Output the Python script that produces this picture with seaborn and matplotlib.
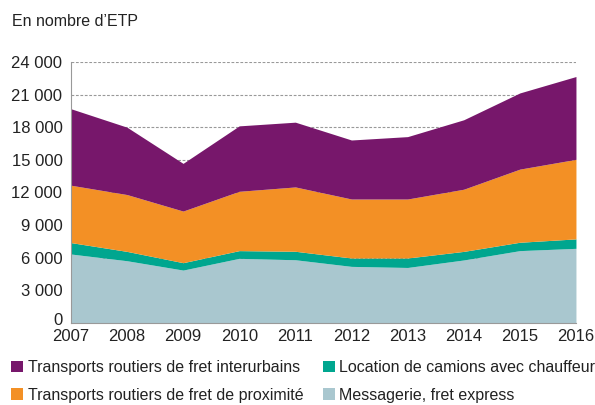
import numpy as np
import pandas as pd
import matplotlib
matplotlib.use("Agg")
import matplotlib.pyplot as plt
import seaborn as sns
from matplotlib.patches import Patch
from matplotlib.ticker import FuncFormatter

years = [2007, 2008, 2009, 2010, 2011, 2012, 2013, 2014, 2015, 2016]
messagerie = [6330, 5710, 4850, 5930, 5800, 5190, 5090, 5780, 6640, 6850]
location = [1050, 860, 680, 710, 780, 770, 870, 790, 770, 870]
proximite = [5280, 5230, 4750, 5460, 5920, 5430, 5430, 5720, 6730, 7320]
interurbains = [7040, 6200, 4390, 6020, 5960, 5430, 5740, 6390, 7010, 7620]

labels = [
    "Messagerie, fret express",
    "Location de camions avec chauffeur",
    "Transports routiers de fret de proximité",
    "Transports routiers de fret interurbains",
]
colors = ["#A9C7CF", "#00A68F", "#F39025", "#77176B"]

df = pd.DataFrame({
    "year": years,
    labels[0]: messagerie,
    labels[1]: location,
    labels[2]: proximite,
    labels[3]: interurbains,
})

sns.set_style("white")
plt.rcParams["font.family"] = ["Liberation Sans", "DejaVu Sans"]
txt = "#222222"

fig = plt.figure(figsize=(5.95, 4.05), dpi=100)
ax = fig.add_axes([0.119, 0.203, 0.849, 0.644])

ax.stackplot(df["year"], [df[l] for l in labels], colors=colors, linewidth=0)

ax.set_xlim(2007, 2016)
ax.set_ylim(0, 24000)
ax.set_yticks(np.arange(0, 24001, 3000))
ax.set_xticks(years)
ax.yaxis.set_major_formatter(
    FuncFormatter(lambda v, p: "" if v == 0 else f"{int(v):,}".replace(",", " ")))
ax.grid(axis="y", color="#999999", linestyle=(0, (2.5, 1.5)), linewidth=0.8)
ax.set_axisbelow(True)

sns.despine(ax=ax, top=True, right=True)
for s in ["left", "bottom"]:
    ax.spines[s].set_color("#999999")
    ax.spines[s].set_linewidth(0.8)
ax.tick_params(axis="both", length=0, labelsize=12, colors=txt)
ax.tick_params(axis="y", pad=6)
ax.tick_params(axis="x", pad=4.5)

# the "0" sits a little above the x labels, as in the original
ax.annotate("0", xy=(2007, 0), xytext=(-6, -1.5), textcoords="offset points",
            ha="right", va="baseline", fontsize=12, color=txt)

fig.text(12 / 595, 0.947, "En nombre d’ETP", fontsize=11.5, color=txt, va="center")

order = [3, 2, 1, 0]
handles = [Patch(facecolor=colors[i], edgecolor="none") for i in order]
fig.legend(handles, [labels[i] for i in order], ncol=2, loc="upper left",
           bbox_to_anchor=(11 / 595, 1 - 360 / 405), borderpad=0, borderaxespad=0,
           frameon=False, fontsize=11.5,
           handlelength=0.75, handleheight=0.75, handletextpad=0.3,
           columnspacing=1.2, labelspacing=0.8, labelcolor=txt)

fig.savefig("out.png", dpi=100)
